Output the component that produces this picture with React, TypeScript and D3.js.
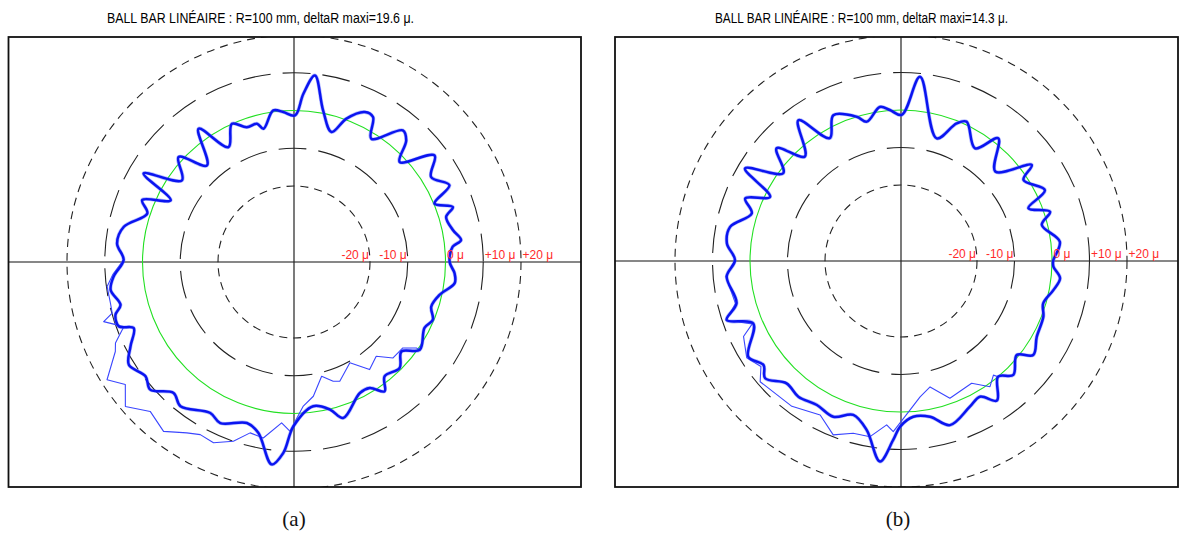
import React from "react";
import * as d3 from "d3";

// ---------- DATA (angle in degrees, counter-clockwise from +x; deviation in μ) ----------
const TITLES = [
  "BALL BAR LINÉAIRE : R=100 mm, deltaR maxi=19.6 μ.",
  "BALL BAR LINÉAIRE : R=100 mm, deltaR maxi=14.3 μ.",
];
const CAPTIONS = ["(a)", "(b)"];
const RING_VALUES = [-20, -10, 0, 10, 20];
const RING_LABELS = ["-20 μ", "-10 μ", "0 μ", "+10 μ", "+20 μ"];

const A_MAIN_ANG = [0, 5.5, 7.5, 11.4, 16.5, 19.1, 22.6, 26.3, 31.8, 37.2, 43.4, 47.3, 50.4, 57.9, 61.4, 64.7, 69.9, 73.9, 79.1, 83.6, 86.8, 89.6, 94.1, 97.8, 102.9, 105, 109.3, 114.2, 119.7, 125.6, 132, 137.7, 143.9, 149.5, 153.4, 157.8, 161.7, 168.3, 174, 179.3, 184.6, 188.7, 193.9, 196.5, 200.2, 202.4, 207.3, 211.9, 217.6, 221.6, 227.4, 231.8, 241, 245.4, 253.7, 258.2, 263.7, 266.8, 269.8, 277.6, 283.7, 287.5, 296.7, 301, 305, 308.4, 314.9, 320.2, 325.1, 333.2, 337.4, 342, 347.3, 352.5, 356];
const A_MAIN_DEV = [1.1, 2.1, 4.5, 2.8, 1.9, 4.4, 0.2, 5.8, 2.6, 6.6, -1.6, 3.7, 5.1, -1.6, 3.6, 3.8, 0.3, -4.3, 0.7, 9.6, 4.5, -1.3, -0.3, 0.4, -3.9, -2.2, -2.3, 0, -5.1, 3.3, -5.7, 1.2, -3.4, 6.1, -3.6, 3.3, 0.8, 5.9, 7, 5, 7.8, 9, 7.2, 9.2, 9.3, 5.8, 8.6, 11.4, 9.5, 10.8, 7, 8.5, 5.6, 6.8, 4.3, 6.1, 13.8, 10.5, 3.4, -1.6, 0.1, 3.2, -1.3, -1.2, 1.7, -1.5, -0.5, -3.1, 0.5, -1.4, -0.3, -1.9, -0.6, 2.8, 2.5];

const A_ALT_ANG = [179.3, 184, 187.5, 192.7, 195.7, 197.4, 200.8, 204.4, 206.6, 212.2, 216, 220.6, 226.1, 232.4, 237.9, 241.5, 246, 251.3, 255.6, 260.1, 265.6, 268.6, 273.7, 278.2, 283.6, 288.2, 291, 299, 305.1, 311.1, 315.9, 321.7, 324.9, 325.1];
const A_ALT_DEV = [5, 8, 9.8, 9.7, 9.9, 12.7, 8.1, 11.8, 12.8, 18.4, 15.1, 18.7, 14.8, 16.5, 13.3, 11.9, 12.3, 10, 6.6, 7.2, 2.6, 4.7, -1.9, -4.2, -9, -6.9, -6.3, -9.6, -5.3, -7, -3.6, -3.4, -0.5, 0.5];

const B_MAIN_ANG = [0, 6.9, 14.4, 18.3, 22.5, 26.2, 33.5, 36.3, 43.5, 51.6, 56.7, 64.8, 68, 73.8, 84.1, 89.7, 94.2, 97.8, 103.8, 107.1, 114.9, 120.1, 126.1, 132.6, 137.8, 143.3, 149.3, 153.9, 158.1, 162.3, 168.7, 174.2, 179.7, 185.1, 194.4, 198.7, 202.9, 212.1, 217.1, 220.8, 226.9, 232.9, 239.7, 246.5, 252.8, 258.5, 264, 267.5, 269.7, 274.5, 280.6, 286.6, 295.3, 300.2, 304.5, 310, 314.6, 320.9, 324.6, 330.8, 338.6, 343.4, 349.2, 353.8, 357.9];
const B_MAIN_DEV = [0.3, 2.4, -1.5, 1.6, -3.5, 2.5, -1.1, 3, -5.6, 1.5, -4.3, 0.8, -0.7, -6.2, 9.1, -1.3, 0.1, 1.2, -2, 0, 2.6, -2.4, 6.2, -2.4, 4.5, -1.1, 8.1, -1.4, 4.5, 1.5, 6.2, 6.4, 4, 6.4, 5, 8.8, 2.5, 7.8, 5.7, 7.6, 4.4, 5.1, 4.2, 5, 2.7, 5.7, 13.5, 7.5, 3.9, 1.4, 2, 5.4, 2.7, 1.6, 4.9, 0, 2.4, -0.5, 3, 1.2, 0.5, -0.7, 1.1, 2.4, 0.4];

const B_ALT_ANG = [179.7, 185.1, 194.4, 198.7, 202.9, 205.6, 212.1, 217, 220.6, 233.1, 242.3, 248.7, 254.5, 260, 265, 267.4, 273.5, 278, 283, 289.6, 300, 305.3, 309, 310];
const B_ALT_DEV = [4, 6.6, 5.3, 9, 2.8, 6.3, 8.3, 6.5, 9.2, 8.2, 6.1, 9.5, 7.4, 7.3, 3.6, 5.3, -0.5, -3.7, -5.8, -1.4, -2.6, 0.8, -1.1, 0];

// ---------- LAYOUT ----------
const W = 1184, H = 533;
const PANELS = [
  { box: [8.5, 37, 581, 487], c: [294, 262], r: [76, 227], title: [107, 307], cap: 294,
    main: [A_MAIN_ANG, A_MAIN_DEV], alt: [A_ALT_ANG, A_ALT_DEV] },
  { box: [615, 37, 1178, 487], c: [901, 261], r: [76, 226], title: [715, 293], cap: 898,
    main: [B_MAIN_ANG, B_MAIN_DEV], alt: [B_ALT_ANG, B_ALT_DEV] },
];

type Pt = { a: number; d: number };
const zip = (ang: number[], dev: number[]): Pt[] => ang.map((a, i) => ({ a, d: dev[i] }));

function Panel({ p, i }: { p: any; i: number }) {
  const [x0, y0, x1, y1] = p.box;
  const [cx, cy] = p.c;
  const rScale = d3.scaleLinear().domain([-20, 20]).range(p.r);
  const radial = (curve: any) =>
    d3.lineRadial<Pt>()
      .angle((d) => ((90 - d.a) * Math.PI) / 180)
      .radius((d) => rScale(d.d))
      .curve(curve);
  const mainPath = radial(d3.curveCatmullRomClosed.alpha(0.5))(zip(p.main[0], p.main[1])) || "";
  const altPath = radial(d3.curveLinear)(zip(p.alt[0], p.alt[1])) || "";
  const clipId = `clip${i}`;
  const dashFor = (v: number) => (Math.abs(v) === 20 ? "8 6" : "28 12");
  return (
    <g>
      <defs>
        <clipPath id={clipId}>
          <rect x={x0} y={y0} width={x1 - x0} height={y1 - y0} />
        </clipPath>
      </defs>
      <text x={p.title[0]} y={23} fontFamily="Liberation Sans, Arial, sans-serif" fontSize={14}
        textLength={p.title[1]} lengthAdjust="spacingAndGlyphs" fill="#000">{TITLES[i]}</text>
      <g clipPath={`url(#${clipId})`}>
        <line x1={x0} x2={x1} y1={cy} y2={cy} stroke="#111" strokeWidth={1.2} />
        <line x1={cx} x2={cx} y1={y0} y2={y1} stroke="#222" strokeWidth={1.2} />
        {RING_VALUES.map((v) =>
          v === 0 ? (
            <circle key={v} cx={cx} cy={cy} r={rScale(v)} fill="none" stroke="#22e022" strokeWidth={1.1} />
          ) : (
            <circle key={v} cx={cx} cy={cy} r={rScale(v)} fill="none" stroke="#222" strokeWidth={1.1}
              strokeDasharray={dashFor(v)} />
          )
        )}
        <g transform={`translate(${cx},${cy})`}>
          <path d={altPath} fill="none" stroke="#3a46ff" strokeWidth={1.1} strokeLinejoin="round" />
          <path d={mainPath} fill="none" stroke="#5a6bff" strokeWidth={3.8} strokeOpacity={0.45} strokeLinejoin="round" />
          <path d={mainPath} fill="none" stroke="#0a14f0" strokeWidth={2.5} strokeLinejoin="round" />
        </g>
        {RING_VALUES.map((v, k) => (
          <text key={v} x={v < 0 ? cx + rScale(v) - 1 : cx + rScale(v) + 1.5} y={cy - 3}
            textAnchor={v < 0 ? "end" : "start"} fontFamily="Liberation Sans, Arial, sans-serif"
            fontSize={12} fill="#ff2a2a">{RING_LABELS[k]}</text>
        ))}
      </g>
      <rect x={x0} y={y0} width={x1 - x0} height={y1 - y0} fill="none" stroke="#111" strokeWidth={1.8} />
      <text x={p.cap} y={526} textAnchor="middle" fontFamily="Liberation Serif, Times New Roman, serif"
        fontSize={21} fill="#111">{CAPTIONS[i]}</text>
    </g>
  );
}

export default function App() {
  return (
    <div style={{ position: "absolute", left: 0, top: 0, width: W, height: H, background: "#fff" }}>
      <svg width={W} height={H} viewBox={`0 0 ${W} ${H}`} style={{ display: "block" }}>
        <rect width={W} height={H} fill="#fff" />
        {PANELS.map((p, i) => (
          <Panel key={i} p={p} i={i} />
        ))}
      </svg>
    </div>
  );
}
